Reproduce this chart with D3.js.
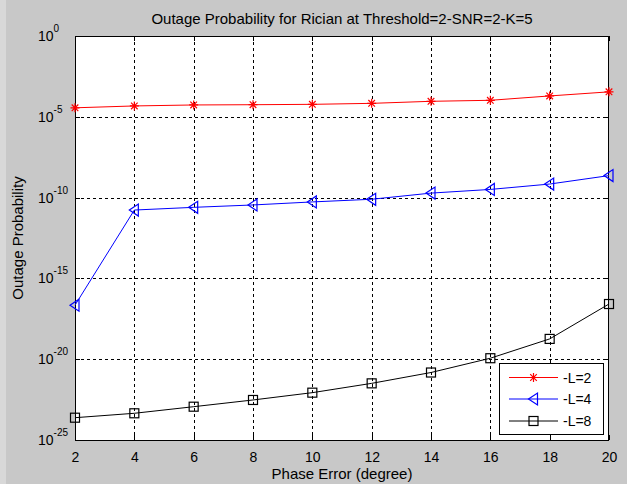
<!DOCTYPE html>
<html>
<head>
<meta charset="utf-8">
<script src="https://cdn.jsdelivr.net/npm/d3@7"></script>
<style>
  html, body { margin: 0; padding: 0; background: #c8c8c8; }
  svg { display: block; }
</style>
</head>
<body>
<svg id="chart" width="627" height="484"></svg>
<script>
// ---- data ----
const phaseError = [2, 4, 6, 8, 10, 12, 14, 16, 18, 20];
const outageL2 = [3.6e-5, 4.7e-5, 5.4e-5, 5.6e-5, 5.9e-5, 6.8e-5, 9.1e-5, 1.05e-4, 1.95e-4, 3.5e-4];
const outageL4 = [2.2e-17, 1.7e-11, 2.5e-11, 3.5e-11, 5.4e-11, 7.9e-11, 1.9e-10, 3.2e-10, 6.9e-10, 2.3e-9];
const outageL8 = [2.4e-24, 4.5e-24, 1.15e-23, 3.0e-23, 8.5e-23, 3.2e-22, 1.5e-21, 1.15e-20, 1.8e-19, 2.6e-17];
const xTicks = [2, 4, 6, 8, 10, 12, 14, 16, 18, 20];
const yTickExponents = [0, -5, -10, -15, -20, -25];
const seriesNames = ["-L=2", "-L=4", "-L=8"];
const titleText = "Outage Probability for Rician at Threshold=2-SNR=2-K=5";
const xLabel = "Phase Error (degree)";
const yLabel = "Outage Probability";

(function () {
// ---- layout ----
const svg = d3.select("#chart");
const pL = 75, pR = 609, pT = 36, pB = 440;
const font = "Liberation Sans, Arial, sans-serif";

svg.append("rect").attr("x", 0).attr("y", 0).attr("width", 6).attr("height", 484).attr("fill", "#d8d8d8");

const x = d3.scaleLinear().domain([2, 20]).range([pL, pR]);
const y = d3.scaleLog().domain([1e-25, 1]).range([pB, pT]);

svg.append("rect").attr("x", pL).attr("y", pT).attr("width", pR - pL).attr("height", pB - pT)
  .attr("fill", "#fff");

// grid
const grid = svg.append("g").attr("stroke", "#000").attr("stroke-width", 1).attr("stroke-dasharray", "3,3")
  .attr("shape-rendering", "crispEdges");
xTicks.slice(1, -1).forEach(t => {
  const xx = Math.round(x(t)) + 0.5;
  grid.append("line").attr("x1", xx).attr("x2", xx).attr("y1", pT).attr("y2", pB);
});
yTickExponents.slice(1, -1).forEach(e => {
  const yy = Math.round(y(Math.pow(10, e))) + 0.5;
  grid.append("line").attr("y1", yy).attr("y2", yy).attr("x1", pL).attr("x2", pR);
});

// axes (inward ticks)
const gxb = svg.append("g").attr("transform", `translate(0,${pB})`)
  .call(d3.axisBottom(x).tickValues(xTicks).tickSizeInner(-5).tickSizeOuter(0).tickPadding(12).tickFormat(d3.format("d")));
gxb.select(".domain").remove();
gxb.selectAll("text").attr("font-family", font).attr("font-size", 14).attr("fill", "#000");
const gxt = svg.append("g").attr("transform", `translate(0,${pT})`)
  .call(d3.axisTop(x).tickValues(xTicks).tickSizeInner(-5).tickSizeOuter(0).tickFormat(""));
gxt.select(".domain").remove();

const yVals = yTickExponents.map(e => Math.pow(10, e));
const gyl = svg.append("g").attr("transform", `translate(${pL},0)`)
  .call(d3.axisLeft(y).tickValues(yVals).tickSizeInner(-5).tickSizeOuter(0).tickFormat(""));
gyl.select(".domain").remove();
const gyr = svg.append("g").attr("transform", `translate(${pR},0)`)
  .call(d3.axisRight(y).tickValues(yVals).tickSizeInner(-5).tickSizeOuter(0).tickFormat(""));
gyr.select(".domain").remove();
svg.selectAll(".tick line").attr("stroke", "#000").attr("shape-rendering", "crispEdges");

// y tick labels: 10^e
yTickExponents.forEach(e => {
  const yy = y(Math.pow(10, e));
  const t = svg.append("text").attr("x", 38).attr("y", yy + 5)
    .attr("font-family", font).attr("font-size", 14).attr("fill", "#000");
  t.append("tspan").text("10");
  t.append("tspan").attr("dy", -9).attr("font-size", 10).text(String(e));
});

// frame
svg.append("rect").attr("x", pL + 0.5).attr("y", pT + 0.5).attr("width", pR - pL - 1).attr("height", pB - pT)
  .attr("fill", "none").attr("stroke", "#000").attr("stroke-width", 1).attr("shape-rendering", "crispEdges");

// title and labels
svg.append("text").attr("x", (pL + pR) / 2).attr("y", 24).attr("text-anchor", "middle")
  .attr("font-family", font).attr("font-size", 15).attr("fill", "#000").text(titleText);
svg.append("text").attr("x", (pL + pR) / 2).attr("y", 479).attr("text-anchor", "middle")
  .attr("font-family", font).attr("font-size", 15).attr("fill", "#000").text(xLabel);
svg.append("text").attr("transform", `translate(23,${(pT + pB) / 2}) rotate(-90)`).attr("text-anchor", "middle")
  .attr("font-family", font).attr("font-size", 15).attr("fill", "#000").text(yLabel);

function drawMarker(g, type, cx, cy, color) {
  if (type === "star") {
    const r = 4.5, d = 3.3;
    g.append("path").attr("d", `M${cx - r},${cy}L${cx + r},${cy}M${cx},${cy - r}L${cx},${cy + r}M${cx - d},${cy - d}L${cx + d},${cy + d}M${cx - d},${cy + d}L${cx + d},${cy - d}`)
      .attr("stroke", color).attr("stroke-width", 1.2).attr("fill", "none");
  } else if (type === "tri") {
    g.append("path").attr("d", `M${cx - 5},${cy}L${cx + 4},${cy - 6}L${cx + 4},${cy + 6}Z`)
      .attr("stroke", color).attr("stroke-width", 1.2).attr("fill", "none");
  } else {
    g.append("rect").attr("x", cx - 4.5).attr("y", cy - 4.5).attr("width", 9).attr("height", 9)
      .attr("stroke", color).attr("stroke-width", 1.2).attr("fill", "none");
  }
}

const series = [
  { name: seriesNames[0], values: outageL2, color: "#ff0000", marker: "star" },
  { name: seriesNames[1], values: outageL4, color: "#0000ff", marker: "tri" },
  { name: seriesNames[2], values: outageL8, color: "#000000", marker: "square" }
];

const line = d3.line().x(d => x(d[0])).y(d => y(d[1]));
series.forEach(s => {
  const pts = phaseError.map((p, i) => [p, s.values[i]]);
  const g = svg.append("g");
  g.append("path").attr("d", line(pts)).attr("fill", "none").attr("stroke", s.color).attr("stroke-width", 1);
  pts.forEach(p => drawMarker(g, s.marker, x(p[0]), y(p[1]), s.color));
});

// legend
const lg = svg.append("g");
lg.append("rect").attr("x", 499.5).attr("y", 363.5).attr("width", 104).attr("height", 71)
  .attr("fill", "#fff").attr("stroke", "#000").attr("stroke-width", 1);
const legY = [377.5, 399, 421];
series.forEach((s, i) => {
  lg.append("line").attr("x1", 509).attr("x2", 558).attr("y1", legY[i]).attr("y2", legY[i])
    .attr("stroke", s.color).attr("stroke-width", 1);
  drawMarker(lg, s.marker, 533.5, legY[i], s.color);
  lg.append("text").attr("x", 563).attr("y", legY[i] + 5).attr("font-family", font).attr("font-size", 14)
    .attr("fill", "#000").text(s.name);
});
})();
</script>
</body>
</html>
